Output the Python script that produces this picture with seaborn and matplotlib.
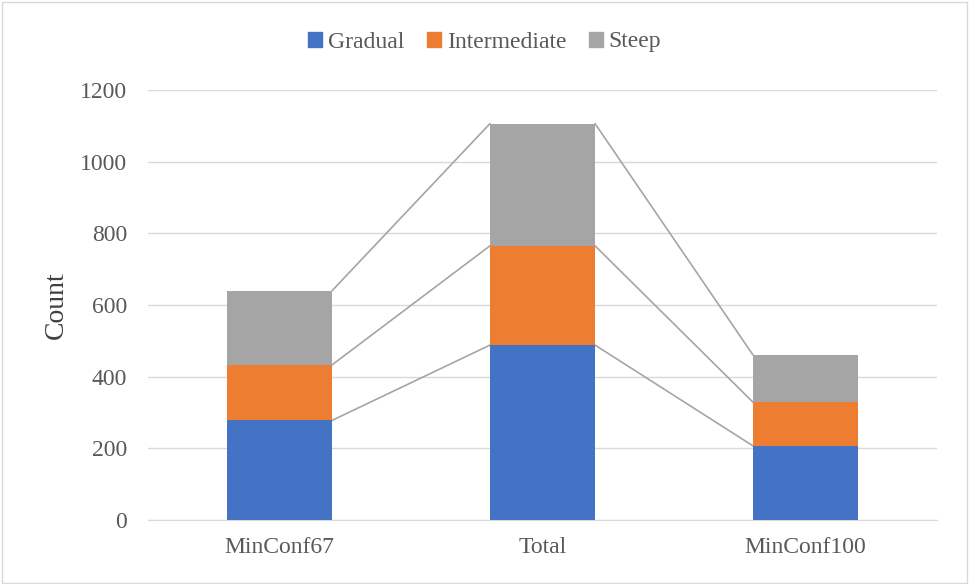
import numpy as np
import pandas as pd
import seaborn as sns
import matplotlib.pyplot as plt
from matplotlib.patches import Patch

# データ
categories = ['MinConf67', 'Total', 'MinConf100']
gradual = [278, 488, 207]
intermediate = [155, 277, 122]
steep = [207, 341, 132]

series = ['Gradual', 'Intermediate', 'Steep']
colors = ['#4472C4', '#ED7D31', '#A5A5A5']

df = pd.DataFrame({'category': categories, 'Gradual': gradual,
                   'Intermediate': intermediate, 'Steep': steep})
# 積み上げ用の累積値
cum = df[series].cumsum(axis=1)

sns.set_style('white')
plt.rcParams['font.family'] = ['Liberation Serif', 'DejaVu Serif']

fig = plt.figure(figsize=(9.69, 5.84), dpi=100)
ax = fig.add_axes([148 / 969, 1 - 520 / 584, (937 - 148) / 969, (520 - 90) / 584])

width = 0.4
# 上の系列から順に重ねて描く
for s, c in zip(series[::-1], colors[::-1]):
    sns.barplot(x=df['category'], y=cum[s], order=categories, color=c,
                width=width, saturation=1, edgecolor='none', ax=ax, zorder=3)

# 系列線（棒の端を結ぶ）
x = np.arange(len(categories))
for s in series:
    for i in range(len(categories) - 1):
        ax.plot([x[i] + width / 2, x[i + 1] - width / 2],
                [cum[s][i], cum[s][i + 1]], color='#A5A5A5', lw=1.2, zorder=2)

ax.set_ylim(0, 1200)
ax.set_xlim(-0.5, 2.5)
ax.set_yticks(range(0, 1201, 200))
ax.yaxis.grid(True, color='#D9D9D9', lw=1)
ax.set_axisbelow(True)
for sp in ['top', 'right', 'left']:
    ax.spines[sp].set_visible(False)
ax.spines['bottom'].set_color('#D9D9D9')
ax.tick_params(axis='both', length=0, labelsize=17, colors='#595959')
ax.tick_params(axis='y', pad=15)
ax.tick_params(axis='x', pad=12)
ax.set_xlabel('')
ax.set_ylabel('Count', fontsize=20, color='#404040', labelpad=8)

handles = [Patch(color=c, label=s) for s, c in zip(series, colors)]
leg = fig.legend(handles=handles, loc='center', bbox_to_anchor=(0.5, 1 - 42 / 584),
                 ncol=3, frameon=False, fontsize=17, handlelength=0.6,
                 handleheight=0.6, handletextpad=0.25, columnspacing=0.95)
for t in leg.get_texts():
    t.set_color('#595959')

# グラフエリアの枠
fig.patches.append(plt.Rectangle((0.002, 0.002), 0.996, 0.994, transform=fig.transFigure,
                                 fill=False, edgecolor='#D9D9D9', lw=1))

fig.savefig('out.png', dpi=100)
